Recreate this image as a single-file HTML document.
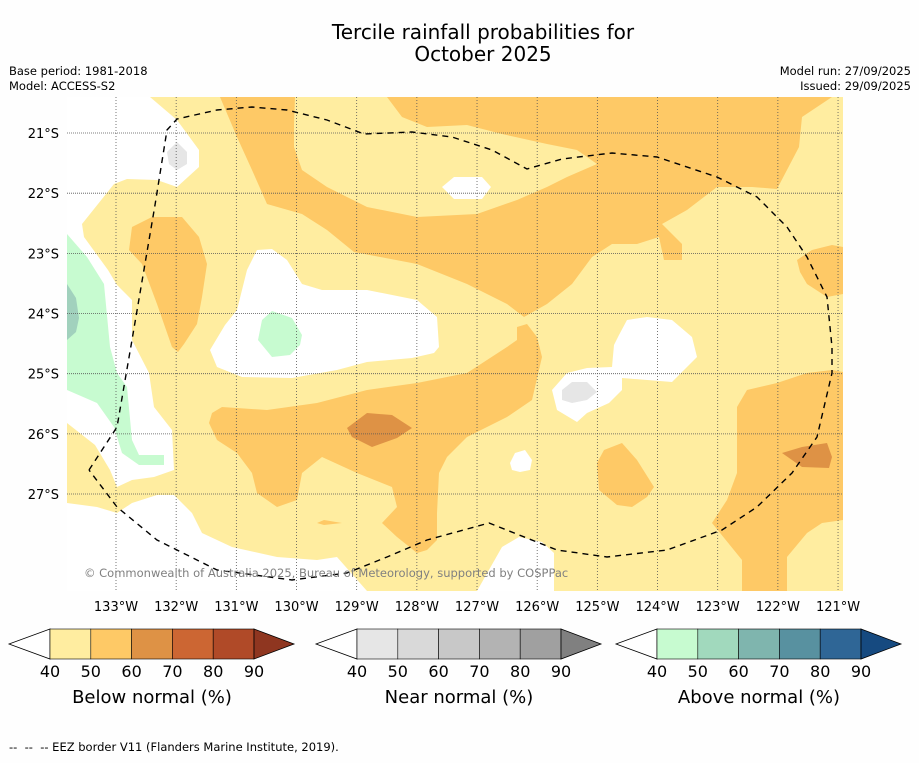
<!DOCTYPE html>
<html><head><meta charset="utf-8">
<style>
html,body{margin:0;padding:0;background:#fefefe;}
body{width:919px;height:758px;overflow:hidden;font-family:"Liberation Sans","DejaVu Sans",sans-serif;}
svg text{font-family:"DejaVu Sans","Liberation Sans",sans-serif;}
</style></head>
<body>
<svg id="chart" width="919" height="758" viewBox="0 0 919 758" xmlns="http://www.w3.org/2000/svg">
  <text x="483" y="39" font-size="20" text-anchor="middle" fill="#000">Tercile rainfall probabilities for</text>
  <text x="483" y="61" font-size="20" text-anchor="middle" fill="#000">October 2025</text>
  <text x="9" y="75" font-size="11.5">Base period: 1981-2018</text>
  <text x="9" y="90" font-size="11.5">Model: ACCESS-S2</text>
  <text x="911" y="75" font-size="11.5" text-anchor="end">Model run: 27/09/2025</text>
  <text x="911" y="90" font-size="11.5" text-anchor="end">Issued: 29/09/2025</text>

  <defs><clipPath id="mapclip"><rect x="67" y="97" width="776" height="494"/></clipPath></defs>
  <g clip-path="url(#mapclip)">
    <rect x="67" y="97" width="776" height="494" fill="#ffeda0"/>
    <polygon fill="#ffffff" points="67,97 150,97 177,120 199,150 199,167 177,187 157,180 127,179 114,184 82,224 84,237 108,270 117,285 132,300 132,340 149,373 154,407 172,430 174,470 154,477 132,480 117,487 110,470 95,445 67,423"/>
    <polygon fill="#ffffff" points="67,503 97,507 117,513 132,503 157,495 174,495 192,513 202,533 232,547 277,557 317,560 337,557 367,591 67,591"/>
    <polygon fill="#ffffff" points="257,250 272,249 287,260 302,284 322,290 367,290 417,300 437,317 439,347 434,353 412,358 367,362 337,370 292,378 242,377 217,367 210,350 225,325 237,310 247,270"/>
    <polygon fill="#ffffff" points="442,187 454,177 482,177 491,187 482,199 454,199"/>
    <polygon fill="#ffffff" points="614,345 619,335 627,320 647,317 672,320 692,337 697,357 672,382 622,378 622,390 609,403 587,413 577,422 557,410 552,390 567,373 587,368 612,367"/>
    <polygon fill="#ffffff" points="510,463 515,453 525,450 532,460 530,470 520,472 512,470"/>
    <polygon fill="#ffffff" points="477,591 502,547 519,537 542,542 554,553 554,591"/>
    <polygon fill="#e6e6e6" points="167,152 177,142 187,152 187,164 177,170 169,164"/>
    <polygon fill="#e6e6e6" points="562,390 572,382 587,382 597,392 587,400 572,403 562,400"/>
    <polygon fill="#fec966" points="220,97 237,137 252,170 267,204 302,214 327,230 354,252 417,264 467,284 507,304 524,317 547,304 572,284 592,257 612,244 637,244 659,237 664,260 682,260 682,244 662,224 687,210 717,187 752,187 777,189 799,147 802,117 832,97 387,97 402,117 427,127 467,125 502,134 547,144 577,150 597,164 567,177 547,187 517,200 477,214 417,217 367,207 327,187 302,170 294,147 294,124 295,97"/>
    <polygon fill="#fec966" points="797,260 812,250 832,245 843,247 843,294 827,297 807,284 800,272"/>
    <polygon fill="#fec966" points="132,227 152,217 182,217 199,237 207,264 202,297 197,324 184,344 178,352 172,347 157,304 142,264 129,250"/>
    <polygon fill="#fec966" points="212,413 222,407 267,410 317,403 367,390 417,383 467,373 507,347 517,340 517,327 527,324 537,337 542,357 532,400 507,417 467,437 447,457 439,473 437,513 437,540 427,550 417,553 397,537 382,523 397,507 392,487 357,473 322,457 302,473 297,500 277,507 257,493 252,473 237,453 217,440 209,423"/>
    <polygon fill="#fec966" points="317,523 324,520 342,523 324,525"/>
    <polygon fill="#fec966" points="597,463 604,450 622,443 637,460 654,487 647,497 632,507 617,505 599,490"/>
    <polygon fill="#fec966" points="737,407 747,390 777,383 807,373 832,370 843,372 843,520 822,523 807,533 787,557 787,591 742,591 742,560 712,523 727,500 737,473"/>
    <polygon fill="#de9245" points="347,428 367,413 392,415 412,428 397,438 372,447 352,437"/>
    <polygon fill="#de9245" points="782,453 802,447 827,443 832,457 829,468 802,467"/>
    <polygon fill="#c7fbd0" points="67,234 87,257 104,284 110,347 117,373 127,387 132,440 139,455 164,455 164,465 139,465 122,453 114,427 97,403 67,390"/>
    <polygon fill="#a1d1bd" points="67,284 76,298 79,318 76,332 67,340"/>
    <polygon fill="#c7fbd0" points="262,320 272,311 292,318 302,335 300,345 290,355 272,357 258,340"/>
    <g id="grid"></g>
    <polyline fill="none" stroke="#000" stroke-width="1.4" stroke-dasharray="6,5" points="89,470 117,427 132,340 155,205 167,130 177,119 217,110 252,107 287,110 327,120 364,134 412,132 452,137 492,150 527,169 562,159 612,153 657,157 717,177 757,197 787,227 807,257 827,297 832,347 832,373 817,437 792,473 757,507 722,530 667,550 607,557 557,550 489,523 427,540 387,557 347,573 292,580 217,570 157,540 117,507 89,470"/>
    <text x="84" y="577" font-size="11.5" fill="#808080">© Commonwealth of Australia 2025, Bureau of Meteorology, supported by COSPPac</text>
  </g>
  <g id="axes"></g>
  <g id="colorbars"></g>
  <text x="9" y="751" font-size="11.5" style="white-space:pre">--  --  -- EEZ border V11 (Flanders Marine Institute, 2019).</text>
</svg>
<script>
const lonTicks = [133,132,131,130,129,128,127,126,125,124,123,122,121];
const latTicks = [21,22,23,24,25,26,27];
const levelLabels = [40,50,60,70,80,90];
const belowColors = ["#ffeda0","#fec966","#de9245","#cc6633","#b04a28"];
const nearColors = ["#e6e6e6","#d9d9d9","#c8c8c8","#b3b3b3","#a0a0a0"];
const aboveColors = ["#c7fbd0","#a1d9bd","#7fb5ae","#5891a0","#2f6696"];
const barTitles = ["Below normal (%)","Near normal (%)","Above normal (%)"];
const NS="http://www.w3.org/2000/svg";
const xLon = lon => 116 + (133 - lon) * 60.17;
const yLat = lat => 133 + (lat - 21) * 60.17;
function mk(tag, attrs, parent){const e=document.createElementNS(NS,tag);for(const k in attrs)e.setAttribute(k,attrs[k]);parent.appendChild(e);return e;}
const grid=document.getElementById('grid');
const axes=document.getElementById('axes');
for(const lon of lonTicks){
  const x=xLon(lon);
  const l=mk('line',{x1:x,y1:97,x2:x,y2:591,stroke:'#555','stroke-width':0.8,'stroke-dasharray':'1,2'},grid);
  
  
  const t=mk('text',{x:x,y:611,'font-size':13,'text-anchor':'middle'},axes);
  t.textContent=lon+'°W';
  
  
}
for(const lat of latTicks){
  const y=yLat(lat);
  const l=mk('line',{x1:67,y1:y,x2:843,y2:y,stroke:'#555','stroke-width':0.8,'stroke-dasharray':'1,1'},grid);
  
  
  const t=mk('text',{x:59,y:y+5,'font-size':13,'text-anchor':'end'},axes);
  t.textContent=lat+'°S';
  
  
}
const cb=document.getElementById('colorbars');
const sets=[[belowColors,"#8f3620",50],[nearColors,"#808080",357],[aboveColors,"#164a80",657]];
sets.forEach((s,i)=>{
  const cols=s[0],tip=s[1],x0=s[2],w=40.8,y0=629,h=30;
  const g=mk('g',{},cb);
  
  
  const lt=mk('polygon',{points:`${x0},${y0} ${x0-41},${y0+h/2} ${x0},${y0+h}`,fill:'#fff',stroke:'#000','stroke-width':0.8},g);
  
  
  cols.forEach((c,j)=>{
    const r=mk('rect',{x:x0+j*w,y:y0,width:w,height:h,fill:c,stroke:'#000','stroke-width':0.6},g);
    
    
  });
  const xe=x0+cols.length*w;
  const rt=mk('polygon',{points:`${xe},${y0} ${xe+40},${y0+h/2} ${xe},${y0+h}`,fill:tip,stroke:'#000','stroke-width':0.8},g);
  
  
  levelLabels.forEach((v,j)=>{
    const t=mk('text',{x:x0+j*w,y:677,'font-size':16,'text-anchor':'middle'},g);
    t.textContent=v;
    
    
  });
  const tt=mk('text',{x:x0+2.5*w,y:703,'font-size':18,'text-anchor':'middle'},g);
  tt.textContent=barTitles[i];
  
  
});
</script>
</body></html>
